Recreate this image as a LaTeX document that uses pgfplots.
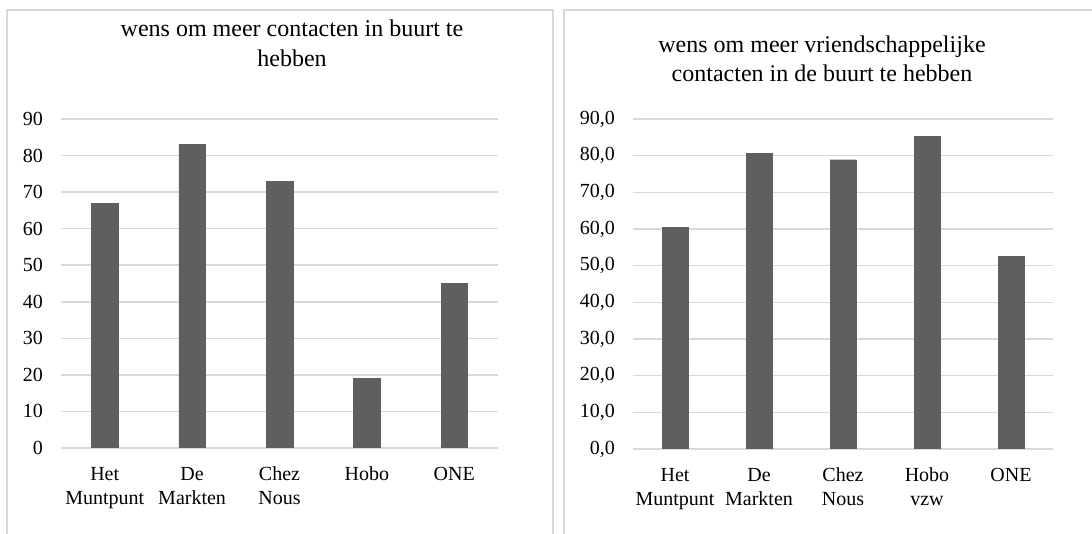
\documentclass[border=0pt]{standalone}
\usepackage{pgfplots}
\pgfplotsset{compat=1.18}
\usepackage{fontspec}
\setmainfont{Liberation Serif}
\definecolor{bargray}{RGB}{95,95,95}
\definecolor{gridgray}{RGB}{217,217,217}

\pgfplotsset{
  panel/.style={
    scale only axis, anchor=south west,
    ymin=0, ymax=90, ytick={0,10,...,90},
    xmin=-0.5, xmax=4.5, xtick={0,...,4},
    axis line style={draw=none}, tick style={draw=none},
    ymajorgrids, major grid style={gridgray, line width=1.5pt},
    ybar, bar width=26.5pt,
    /pgf/number format/assume math mode=true,
    ticklabel style={font=\fontsize{20}{24}\selectfont, inner sep=0pt},
    yticklabel style={anchor=east, xshift=-18pt},
    xticklabel style={anchor=north, align=center, yshift=-11pt},
  },
  bars/.style={fill=bargray, draw=bargray}
}

\begin{document}
\begin{tikzpicture}[x=1pt,y=1pt]
\useasboundingbox (0,0) rectangle (1092,534);
% frames
\draw[gridgray, line width=2pt] (7,0) -- (7,524) -- (553,524) -- (553,0);
\draw[gridgray, line width=2pt] (564,0) -- (564,524) -- (1092,524);

% titles
\node[anchor=base, font=\fontsize{24}{29}\selectfont] at (292,497) {wens om meer contacten in buurt te};
\node[anchor=base, font=\fontsize{24}{29}\selectfont] at (292,467) {hebben};
\node[anchor=base, font=\fontsize{24}{29}\selectfont] at (822,481) {wens om meer vriendschappelijke};
\node[anchor=base, font=\fontsize{24}{29}\selectfont] at (822,452) {contacten in de buurt te hebben};

\begin{axis}[panel, at={(61pt,86pt)}, width=437pt, height=329pt,
  xticklabels={{\strut Het\\Muntpunt},{\strut De\\Markten},{\strut Chez\\Nous},{\strut Hobo},{\strut ONE}}]
\addplot[bars] coordinates {(0,67) (1,83) (2,73) (3,19) (4,45)};
\end{axis}

\begin{axis}[panel, at={(633pt,85pt)}, width=420pt, height=330pt,
  bar width=26pt,
  yticklabel={\pgfmathprintnumber[fixed, fixed zerofill, precision=1, use comma]{\tick}},
  xticklabels={{\strut Het\\Muntpunt},{\strut De\\Markten},{\strut Chez\\Nous},{\strut Hobo\\vzw},{\strut ONE}}]
\addplot[bars] coordinates {(0,60.5) (1,80.6) (2,78.9) (3,85.3) (4,52.6)};
\end{axis}
\end{tikzpicture}
\end{document}
